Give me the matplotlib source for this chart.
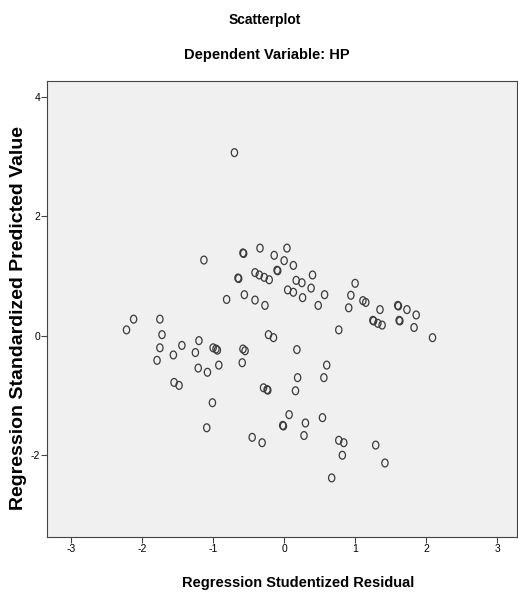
import numpy as np
from matplotlib import pyplot as plt
from matplotlib.path import Path
from matplotlib.transforms import Affine2D

# studentized residual (x) vs standardized predicted value (y)
resid = [-0.70, -1.13, -0.58, -0.57, -0.34, -0.14, 0.04, 0.00, -0.10, -0.09,
         0.13, -0.65, -0.64, -0.41, -0.35, -0.28, -0.21, 0.17, 0.25, 0.40,
         0.05, 0.13, 0.26, 0.38, 0.57, 0.48, -0.81, -0.56, -0.41, -0.27,
         1.00, 0.94, 1.11, 1.15, 0.91, 1.35, 1.60, 1.61, 1.73, 1.86,
         1.25, 1.26, 1.32, 1.38, 1.62, 1.63, 1.83, 0.77, 2.09, -2.12,
         -1.75, -2.22, -1.72, -1.75, -1.79, -1.56, -1.44, -1.20, -1.25, -1.00,
         -0.96, -0.94, -1.21, -1.08, -0.92, -1.55, -1.48, -1.01, -1.09, -0.58,
         -0.55, -0.59, -0.22, -0.15, -0.29, -0.24, -0.23, 0.07, -0.02, -0.01,
         -0.45, -0.31, 0.18, 0.60, 0.56, 0.19, 0.16, 0.30, 0.54, 0.28,
         0.77, 0.84, 0.82, 1.29, 1.42, 0.67]
pred = [3.07, 1.27, 1.39, 1.38, 1.47, 1.35, 1.47, 1.26, 1.10, 1.09,
        1.18, 0.97, 0.96, 1.06, 1.02, 0.98, 0.94, 0.93, 0.89, 1.02,
        0.77, 0.73, 0.64, 0.80, 0.69, 0.51, 0.61, 0.69, 0.60, 0.51,
        0.88, 0.68, 0.59, 0.56, 0.47, 0.44, 0.51, 0.50, 0.44, 0.35,
        0.26, 0.25, 0.21, 0.18, 0.26, 0.25, 0.14, 0.10, -0.03, 0.28,
        0.28, 0.10, 0.02, -0.20, -0.41, -0.32, -0.16, -0.08, -0.28, -0.20,
        -0.22, -0.24, -0.54, -0.61, -0.49, -0.78, -0.83, -1.12, -1.54, -0.22,
        -0.25, -0.45, 0.02, -0.03, -0.87, -0.90, -0.91, -1.32, -1.50, -1.51,
        -1.70, -1.79, -0.23, -0.49, -0.70, -0.70, -0.92, -1.46, -1.37, -1.67,
        -1.75, -1.79, -2.00, -1.83, -2.13, -2.38]

xticks = [-3, -2, -1, 0, 1, 2, 3]
yticks = [-2, 0, 2, 4]

# the spss circles come out a bit taller than wide
ell = Affine2D().scale(0.8, 1.0).transform_path(Path.unit_circle())

fig = plt.figure(figsize=(5.18, 5.92), dpi=100)
ax = fig.add_axes([47/518, 1 - 537/592, 470/518, 456/592])
ax.set_facecolor('#f0f0f0')

ax.scatter(resid, pred, s=32, marker=ell, facecolors='none', edgecolors='#3a3a3a', linewidths=0.9)

ax.set_xlim(-3.34, 3.28)
ax.set_ylim(-3.37, 4.27)
ax.set_xticks(xticks)
ax.set_yticks(yticks)
ax.set_xticklabels([str(t) for t in xticks], family='Liberation Sans', fontsize=7.5)
ax.set_yticklabels([str(t) for t in yticks], family='Liberation Sans', fontsize=7.5)
ax.tick_params(direction='out', length=4, width=0.8, color='#444444', pad=1)
for s in ax.spines.values():
    s.set_color('#444444')
    s.set_linewidth(0.8)

fig.text(265/518, 1 - 20/592, 'Scatterplot', ha='center', va='center',
         family='Liberation Sans', fontsize=10, fontweight='bold')
fig.text(267/518, 1 - 55/592, 'Dependent Variable: HP', ha='center', va='center',
         family='Liberation Sans', fontsize=10.5, fontweight='bold')
fig.text(298/518, 1 - 583/592, 'Regression Studentized Residual', ha='center', va='center',
         family='Liberation Sans', fontsize=10.5, fontweight='bold')
fig.text(19/518, 1 - 318/592, 'Regression Standardized Predicted Value', ha='center', va='center',
         rotation=90, family='Liberation Sans', fontsize=14, fontweight='bold')

fig.savefig('out.png', dpi=100)
